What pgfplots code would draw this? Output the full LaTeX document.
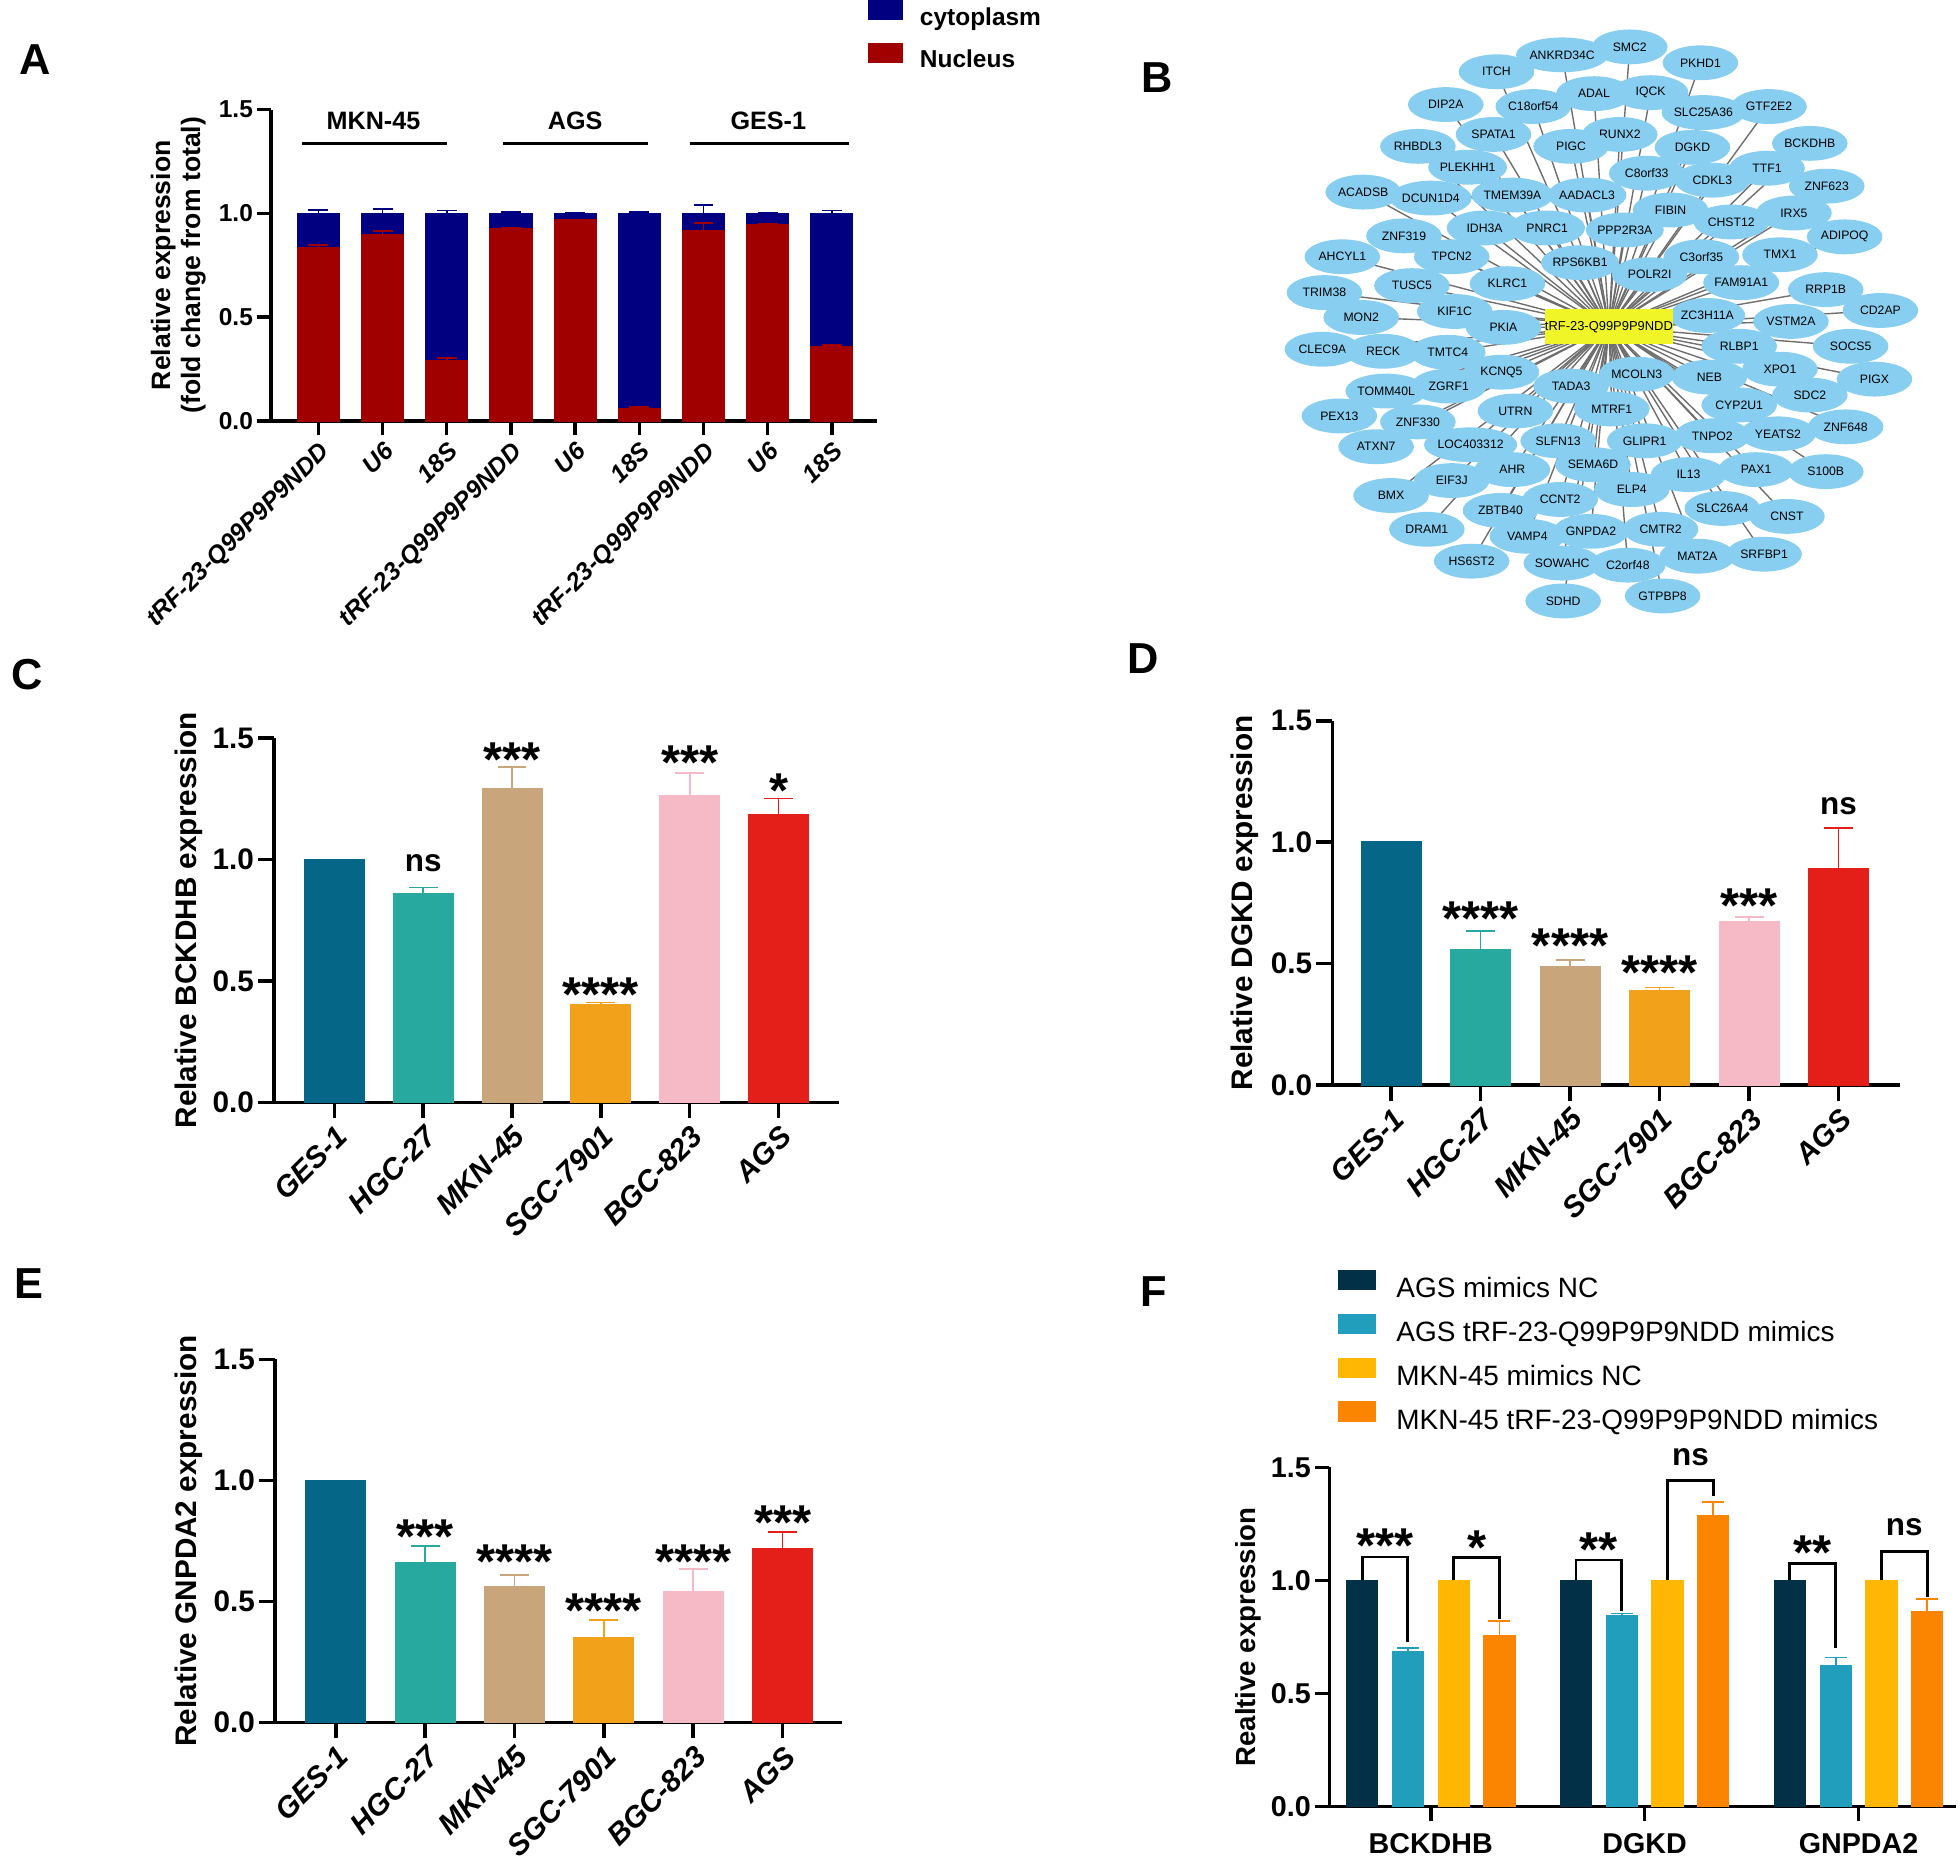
\documentclass[border=0pt]{standalone}
\usepackage{fontspec}
\setmainfont{Liberation Sans}
\usepackage{pgfplots}
\usepackage{pgfplotstable}
\pgfplotsset{compat=1.18}
\usetikzlibrary{shapes.geometric}

\definecolor{cyto}{RGB}{0,0,128}
\definecolor{nucl}{RGB}{160,0,0}
\definecolor{cGES}{RGB}{5,102,136}
\definecolor{cHGC}{RGB}{40,169,160}
\definecolor{cMKN}{RGB}{200,165,122}
\definecolor{cSGC}{RGB}{242,161,26}
\definecolor{cBGC}{RGB}{246,186,198}
\definecolor{cAGS}{RGB}{228,31,26}
\definecolor{fNC}{RGB}{2,48,71}
\definecolor{fMim}{RGB}{33,158,188}
\definecolor{fMNC}{RGB}{255,183,3}
\definecolor{fMMim}{RGB}{251,133,0}
\definecolor{netblue}{RGB}{135,206,240}
\definecolor{hubyel}{RGB}{240,245,40}
\definecolor{edgegray}{RGB}{110,110,110}

\newcommand{\fs}[1]{\fontsize{#1}{#1}\selectfont}

\tikzset{
  stars/.style={font=\bfseries\fs{14}, anchor=north, inner sep=0pt},
  nsl/.style={font=\bfseries\fs{9}, anchor=center, inner sep=0pt},
}

\pgfplotsset{
  gp/.style={scale only axis, ybar, clip=false,
    axis x line*=bottom, axis y line*=left,
    axis line style={line width=1pt},
    tick style={black, line width=1pt},
    tick align=outside, major tick length=1.6mm,
    ymin=0, ymax=1.5, ytick={0,0.5,1,1.5}, yticklabels={0.0,0.5,1.0,1.5},
    yticklabel style={font=\bfseries\fs{8.5}, inner sep=1pt},
    ylabel style={font=\bfseries\fs{8.5}, anchor=center},
    bar width=6mm,
  },
  rotx/.style={xtick={0,...,5},
    xticklabel style={font=\bfseries\itshape\fs{8.5}, rotate=45, anchor=north east, inner sep=1pt}},
  eb/.style 2 args={error bars/.cd, y dir=plus, y explicit,
    error bar style={line width=0.5pt, #1},
    error mark options={rotate=90, line width=0.5pt, mark size=#2, #1}},
}

% network: node centres in picture pixels (x right, y down)
\pgfplotstableread{
x y n
1628 44 SMC2
1560 52 ANKRD34C
1494 69 ITCH
1699 60 PKHD1
1592 91 ADAL
1649 90 IQCK
1531 104 C18orf54
1443 102 DIP2A
1702 110 SLC25A36
1768 104 GTF2E2
1618 132 RUNX2
1491 132 SPATA1
1569 144 PIGC
1691 145 DGKD
1809 141 BCKDHB
1415 144 RHBDL3
1645 171 C8orf33
1465 165 PLEKHH1
1711 178 CDKL3
1766 166 TTF1
1826 184 ZNF623
1360 190 ACADSB
1428 196 DCUN1D4
1510 193 TMEM39A
1585 193 AADACL3
1669 208 FIBIN
1730 220 CHST12
1793 211 IRX5
1844 235 ADIPOQ
1401 234 ZNF319
1482 226 IDH3A
1545 226 PNRC1
1623 228 PPP2R3A
1700 255 C3orf35
1779 253 TMX1
1339 255 AHCYL1
1449 255 TPCN2
1578 261 RPS6KB1
1648 273 POLR2I
1740 281 FAM91A1
1825 288 RRP1B
1409 284 TUSC5
1505 282 KLRC1
1321 291 TRIM38
1880 309 CD2AP
1452 310 KIF1C
1706 314 ZC3H11A
1790 320 VSTM2A
1358 316 MON2
1501 326 PKIA
1850 345 SOCS5
1874 378 PIGX
1319 348 CLEC9A
1380 350 RECK
1445 351 TMTC4
1738 345 RLBP1
1779 368 XPO1
1499 371 KCNQ5
1708 376 NEB
1635 373 MCOLN3
1383 390 TOMM40L
1446 385 ZGRF1
1569 385 TADA3
1809 394 SDC2
1738 404 CYP2U1
1610 408 MTRF1
1336 415 PEX13
1415 421 ZNF330
1513 410 UTRN
1845 426 ZNF648
1373 446 ATXN7
1468 444 LOC403312
1556 440 SLFN13
1643 440 GLIPR1
1711 435 TNPO2
1777 433 YEATS2
1591 464 SEMA6D
1510 469 AHR
1449 480 EIF3J
1687 474 IL13
1755 469 PAX1
1825 471 S100B
1388 495 BMX
1630 489 ELP4
1498 510 ZBTB40
1558 499 CCNT2
1721 508 SLC26A4
1786 516 CNST
1424 529 DRAM1
1525 536 VAMP4
1589 531 GNPDA2
1659 529 CMTR2
1696 556 MAT2A
1763 554 SRFBP1
1469 561 HS6ST2
1560 563 SOWAHC
1626 565 C2orf48
1661 596 GTPBP8
1561 601 SDHD
}\net

\begin{document}
\begin{tikzpicture}
\path (0,0) rectangle (19.6,-18.64);

% ---------- B: network and panel letters ----------
\begin{axis}[at={(0,0)}, anchor=north west, scale only axis,
  width=19.6cm, height=18.64cm, xmin=0, xmax=1960, ymin=0, ymax=1864,
  y dir=reverse, hide axis, clip=false]
\addplot[draw=edgegray, line width=0.4pt, mark=none,
  quiver={u={1607-\thisrow{x}}, v={325.5-\thisrow{y}}}] table[x=x,y=y] {\net};
\addplot[only marks, mark=*, mark size=0pt, mark options={draw=none,fill=none},
  nodes near coords, point meta=explicit symbolic,
  every node near coord/.append style={anchor=center, ellipse, fill=netblue,
    minimum width=7.6mm, minimum height=3.5mm, inner sep=0pt, text=black, font=\fs{3.5}}]
  table[x=x,y=y,meta=n] {\net};
\addplot[only marks, mark=*, mark size=0pt, mark options={draw=none,fill=none},
  nodes near coords, point meta=explicit symbolic,
  every node near coord/.append style={anchor=center, rectangle, fill=hubyel,
    minimum width=12.8mm, minimum height=3.5mm, inner sep=0pt, text=black, font=\fs{3.7}}]
  coordinates {(1607,325.5) [tRF-23-Q99P9P9NDD]};
\node[font=\bfseries\fs{12.4}] at (axis cs:25,57) {A};
\node[font=\bfseries\fs{12.4}] at (axis cs:1153,75) {B};
\node[font=\bfseries\fs{12.4}] at (axis cs:17,675) {C};
\node[font=\bfseries\fs{12.4}] at (axis cs:1139,659) {D};
\node[font=\bfseries\fs{12.4}] at (axis cs:19,1287) {E};
\node[font=\bfseries\fs{12.4}] at (axis cs:1149,1295) {F};
\end{axis}

% ---------- A ----------
\begin{axis}[gp, rotx, at={(2.62cm,-4.20cm)}, anchor=south west, width=6.09cm, height=3.13cm,
  xmin=-0.738, xmax=8.70, xtick={0,...,8},
  xticklabels={tRF-23-Q99P9P9NDD,U6,18S,tRF-23-Q99P9P9NDD,U6,18S,tRF-23-Q99P9P9NDD,U6,18S},
  xticklabel style={font=\bfseries\itshape\fs{7.1}},
  yticklabel style={font=\bfseries\fs{7}},
  ylabel={Relative expression\\(fold change from total)},
  ylabel style={at={(axis description cs:-0.153,0.5)}, font=\bfseries\fontsize{7.6}{8.6}\selectfont, align=center},
  bar width=4.2mm, major tick length=1.4mm,
  legend style={at={(axis description cs:0.984,1.354)}, anchor=north west, draw=none, fill=none,
    inner sep=0pt, font=\bfseries\fs{7}, row sep=0.5mm,
    /tikz/every odd column/.append style={column sep=1.0mm}},
  legend cell align=left,
  legend image code/.code={\draw[#1] (0mm,-0.05mm) rectangle (3.4mm,1.85mm);}]
\addplot[fill=cyto, draw=cyto, bar shift=0pt, eb={cyto}{1.0mm}] coordinates {
 (0,1)+-(0,0.015) (1,1)+-(0,0.019) (2,1)+-(0,0.014) (3,1)+-(0,0.008) (4,1)+-(0,0.004)
 (5,1)+-(0,0.006) (6,1)+-(0,0.040) (7,1)+-(0,0.004) (8,1)+-(0,0.014)};
\addlegendentry{cytoplasm}
\addplot[fill=nucl, draw=nucl, bar shift=0pt, eb={nucl}{1.0mm}] coordinates {
 (0,0.832)+-(0,0.015) (1,0.897)+-(0,0.018) (2,0.288)+-(0,0.014) (3,0.926)+-(0,0.006) (4,0.967)+-(0,0.003)
 (5,0.060)+-(0,0.008) (6,0.915)+-(0,0.040) (7,0.944)+-(0,0.004) (8,0.356)+-(0,0.010)};
\addlegendentry{Nucleus}
\draw[line width=0.85pt] (axis cs:-0.257,1.337) -- (axis cs:2.006,1.337);
\draw[line width=0.85pt] (axis cs:2.874,1.337) -- (axis cs:5.14,1.337);
\draw[line width=0.85pt] (axis cs:5.79,1.337) -- (axis cs:8.27,1.337);
\node[font=\bfseries\fs{7.2}] at (axis cs:0.859,1.447) {MKN-45};
\node[font=\bfseries\fs{7.2}] at (axis cs:4.0,1.447) {AGS};
\node[font=\bfseries\fs{7.2}] at (axis cs:7.01,1.447) {GES-1};
\end{axis}

% ---------- C ----------
\begin{axis}[gp, rotx, at={(2.65cm,-11.05cm)}, anchor=south west, width=5.68cm, height=3.66cm,
  xmin=-0.68, xmax=5.68,
  xticklabels={GES-1,HGC-27,MKN-45,SGC-7901,BGC-823,AGS},
  ylabel={Relative BCKDHB expression},
  ylabel style={at={(axis description cs:-0.151,0.5)}}]
\addplot[fill=cGES, draw=cGES, bar shift=0pt] coordinates {(0,1.0)};
\addplot[fill=cHGC, draw=cHGC, bar shift=0pt, eb={cHGC}{1.45mm}] coordinates {(1,0.858)+-(0,0.027)};
\addplot[fill=cMKN, draw=cMKN, bar shift=0pt, eb={cMKN}{1.45mm}] coordinates {(2,1.293)+-(0,0.089)};
\addplot[fill=cSGC, draw=cSGC, bar shift=0pt, eb={cSGC}{1.45mm}] coordinates {(3,0.401)+-(0,0.010)};
\addplot[fill=cBGC, draw=cBGC, bar shift=0pt, eb={cBGC}{1.45mm}] coordinates {(4,1.263)+-(0,0.094)};
\addplot[fill=cAGS, draw=cAGS, bar shift=0pt, eb={cAGS}{1.45mm}] coordinates {(5,1.183)+-(0,0.069)};
\node[nsl] at (axis cs:1,0.984) {ns};
\node[stars] at (axis cs:2,1.485) {***};
\node[stars] at (axis cs:3,0.516) {****};
\node[stars] at (axis cs:4,1.472) {***};
\node[stars] at (axis cs:5,1.357) {*};
\end{axis}

% ---------- D ----------
\begin{axis}[gp, rotx, at={(13.29cm,-10.875cm)}, anchor=south west, width=5.71cm, height=3.66cm,
  xmin=-0.656, xmax=5.69,
  xticklabels={GES-1,HGC-27,MKN-45,SGC-7901,BGC-823,AGS},
  ylabel={Relative DGKD expression},
  ylabel style={at={(axis description cs:-0.154,0.5)}}]
\addplot[fill=cGES, draw=cGES, bar shift=0pt] coordinates {(0,1.0)};
\addplot[fill=cHGC, draw=cHGC, bar shift=0pt, eb={cHGC}{1.45mm}] coordinates {(1,0.556)+-(0,0.079)};
\addplot[fill=cMKN, draw=cMKN, bar shift=0pt, eb={cMKN}{1.45mm}] coordinates {(2,0.488)+-(0,0.026)};
\addplot[fill=cSGC, draw=cSGC, bar shift=0pt, eb={cSGC}{1.45mm}] coordinates {(3,0.387)+-(0,0.014)};
\addplot[fill=cBGC, draw=cBGC, bar shift=0pt, eb={cBGC}{1.45mm}] coordinates {(4,0.672)+-(0,0.021)};
\addplot[fill=cAGS, draw=cAGS, bar shift=0pt, eb={cAGS}{1.45mm}] coordinates {(5,0.892)+-(0,0.165)};
\node[stars] at (axis cs:1,0.757) {****};
\node[stars] at (axis cs:2,0.647) {****};
\node[stars] at (axis cs:3,0.534) {****};
\node[stars] at (axis cs:4,0.810) {***};
\node[nsl] at (axis cs:5,1.149) {ns};
\end{axis}

% ---------- E ----------
\begin{axis}[gp, rotx, at={(2.66cm,-17.285cm)}, anchor=south west, width=5.705cm, height=3.65cm,
  xmin=-0.68, xmax=5.67,
  xticklabels={GES-1,HGC-27,MKN-45,SGC-7901,BGC-823,AGS},
  ylabel={Relative GNPDA2 expression},
  ylabel style={at={(axis description cs:-0.151,0.5)}}]
\addplot[fill=cGES, draw=cGES, bar shift=0pt] coordinates {(0,1.0)};
\addplot[fill=cHGC, draw=cHGC, bar shift=0pt, eb={cHGC}{1.45mm}] coordinates {(1,0.659)+-(0,0.071)};
\addplot[fill=cMKN, draw=cMKN, bar shift=0pt, eb={cMKN}{1.45mm}] coordinates {(2,0.561)+-(0,0.048)};
\addplot[fill=cSGC, draw=cSGC, bar shift=0pt, eb={cSGC}{1.45mm}] coordinates {(3,0.352)+-(0,0.072)};
\addplot[fill=cBGC, draw=cBGC, bar shift=0pt, eb={cBGC}{1.45mm}] coordinates {(4,0.540)+-(0,0.093)};
\addplot[fill=cAGS, draw=cAGS, bar shift=0pt, eb={cAGS}{1.45mm}] coordinates {(5,0.717)+-(0,0.069)};
\node[stars] at (axis cs:1,0.839) {***};
\node[stars] at (axis cs:2,0.735) {****};
\node[stars] at (axis cs:3,0.534) {****};
\node[stars] at (axis cs:4,0.735) {****};
\node[stars] at (axis cs:5,0.896) {***};
\end{axis}

% ---------- F ----------
\begin{axis}[gp, at={(13.26cm,-18.13cm)}, anchor=south west, width=6.30cm, height=3.41cm,
  xmin=-0.474, xmax=2.456, xtick={0,1,2}, xticklabels={BCKDHB,DGKD,GNPDA2},
  xticklabel style={anchor=north, font=\bfseries\fs{8.2}},
  yticklabel style={font=\bfseries\fs{8.2}},
  ylabel={Realtive expression},
  ylabel style={at={(axis description cs:-0.129,0.5)}, font=\bfseries\fs{7.9}},
  bar width=3.1mm, major tick length=1.45mm,
  legend style={at={(axis description cs:0.013,1.584)}, anchor=north west, draw=none, fill=none,
    inner sep=0pt, font=\fs{8}, row sep=0.4mm,
    /tikz/every odd column/.append style={column sep=1.3mm}},
  legend cell align=left,
  legend image code/.code={\draw[#1] (0mm,0.05mm) rectangle (3.7mm,1.95mm);}]
\addplot[fill=fNC, draw=fNC, bar shift=-6.9mm] coordinates {(0,1) (1,1) (2,1)};
\addlegendentry{\vphantom{Q}AGS mimics NC}
\addplot[fill=fMim, draw=fMim, bar shift=-2.3mm, eb={fMim}{1.1mm}] coordinates {
 (0,0.685)+-(0,0.017) (1,0.845)+-(0,0.009) (2,0.621)+-(0,0.038)};
\addlegendentry{\vphantom{Q}AGS tRF-23-Q99P9P9NDD mimics}
\addplot[fill=fMNC, draw=fMNC, bar shift=2.3mm] coordinates {(0,1) (1,1) (2,1)};
\addlegendentry{\vphantom{Q}MKN-45 mimics NC}
\addplot[fill=fMMim, draw=fMMim, bar shift=6.9mm, eb={fMMim}{1.1mm}] coordinates {
 (0,0.757)+-(0,0.064) (1,1.287)+-(0,0.059) (2,0.861)+-(0,0.056)};
\addlegendentry{\vphantom{Q}MKN-45 tRF-23-Q99P9P9NDD mimics}
\draw[line width=0.8pt] (axis cs:-0.321,1.0) -- (axis cs:-0.321,1.103) -- (axis cs:-0.107,1.103) -- (axis cs:-0.107,0.728);
\draw[line width=0.8pt] (axis cs:0.107,1.0) -- (axis cs:0.107,1.10) -- (axis cs:0.321,1.10) -- (axis cs:0.321,0.83);
\draw[line width=0.8pt] (axis cs:0.679,1.0) -- (axis cs:0.679,1.09) -- (axis cs:0.893,1.09) -- (axis cs:0.893,0.866);
\draw[line width=0.8pt] (axis cs:1.107,1.0) -- (axis cs:1.107,1.442) -- (axis cs:1.321,1.442) -- (axis cs:1.321,1.373);
\draw[line width=0.8pt] (axis cs:1.679,1.0) -- (axis cs:1.679,1.076) -- (axis cs:1.893,1.076) -- (axis cs:1.893,0.70);
\draw[line width=0.8pt] (axis cs:2.107,1.0) -- (axis cs:2.107,1.129) -- (axis cs:2.321,1.129) -- (axis cs:2.321,0.926);
\node[stars] at (axis cs:-0.214,1.232) {***};
\node[stars] at (axis cs:0.214,1.224) {*};
\node[stars] at (axis cs:0.786,1.213) {**};
\node[nsl] at (axis cs:1.214,1.546) {ns};
\node[stars] at (axis cs:1.786,1.201) {**};
\node[nsl] at (axis cs:2.214,1.236) {ns};
\end{axis}
\end{tikzpicture}
\end{document}
